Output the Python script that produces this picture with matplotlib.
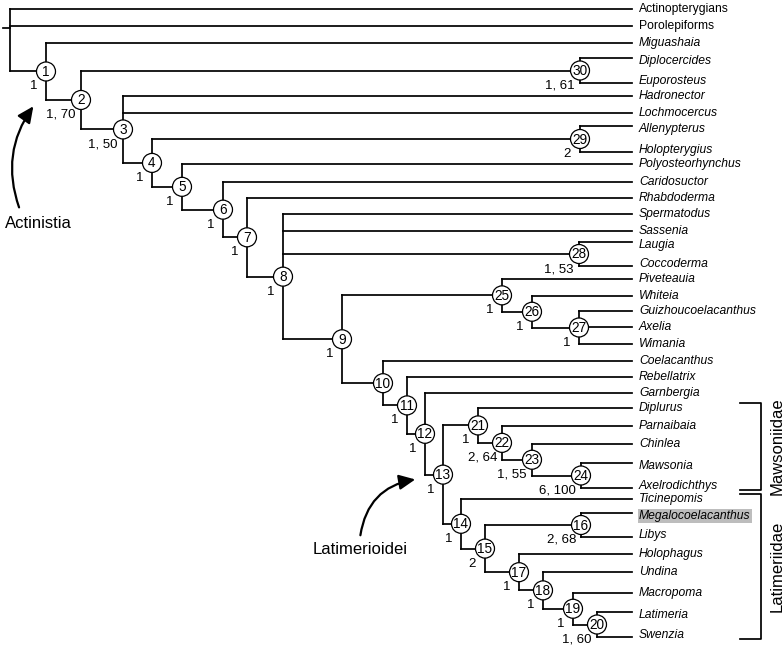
import matplotlib
matplotlib.use("Agg")
import matplotlib.pyplot as plt
from matplotlib.patches import Circle, FancyArrowPatch

# ---------------- data ----------------
taxa = ["Actinopterygians", "Porolepiforms", "Miguashaia", "Diplocercides", "Euporosteus",
        "Hadronector", "Lochmocercus", "Allenypterus", "Holopterygius", "Polyosteorhynchus",
        "Caridosuctor", "Rhabdoderma", "Spermatodus", "Sassenia", "Laugia", "Coccoderma",
        "Piveteauia", "Whiteia", "Guizhoucoelacanthus", "Axelia", "Wimania", "Coelacanthus",
        "Rebellatrix", "Garnbergia", "Diplurus", "Parnaibaia", "Chinlea", "Mawsonia",
        "Axelrodichthys", "Ticinepomis", "Megalocoelacanthus", "Libys", "Holophagus",
        "Undina", "Macropoma", "Latimeria", "Swenzia"]
upright_taxa = ["Actinopterygians", "Porolepiforms"]
highlight_taxon = "Megalocoelacanthus"

clades = {
    "root": ["Actinopterygians", "Porolepiforms", 1],
    1: ["Miguashaia", 2],
    2: [30, 3],
    30: ["Diplocercides", "Euporosteus"],
    3: ["Hadronector", "Lochmocercus", 4],
    4: [29, 5],
    29: ["Allenypterus", "Holopterygius"],
    5: ["Polyosteorhynchus", 6],
    6: ["Caridosuctor", 7],
    7: ["Rhabdoderma", 8],
    8: ["Spermatodus", "Sassenia", 28, 9],
    28: ["Laugia", "Coccoderma"],
    9: [25, 10],
    25: ["Piveteauia", 26],
    26: ["Whiteia", 27],
    27: ["Guizhoucoelacanthus", "Axelia", "Wimania"],
    10: ["Coelacanthus", 11],
    11: ["Rebellatrix", 12],
    12: ["Garnbergia", 13],
    13: [21, 14],
    21: ["Diplurus", 22],
    22: ["Parnaibaia", 23],
    23: ["Chinlea", 24],
    24: ["Mawsonia", "Axelrodichthys"],
    14: ["Ticinepomis", 15],
    15: [16, 17],
    16: ["Megalocoelacanthus", "Libys"],
    17: ["Holophagus", 18],
    18: ["Undina", 19],
    19: ["Macropoma", 20],
    20: ["Latimeria", "Swenzia"],
}

support = {1: "1", 2: "1, 70", 3: "1, 50", 4: "1", 5: "1", 6: "1", 7: "1", 8: "1", 9: "1",
           11: "1", 12: "1", 13: "1", 14: "1", 15: "2", 16: "2, 68", 17: "1", 18: "1",
           19: "1", 20: "1, 60", 21: "1", 22: "2, 64", 23: "1, 55", 24: "6, 100",
           25: "1", 26: "1", 27: "1", 28: "1, 53", 29: "2", 30: "1, 61"}

groups = ["Mawsoniidae", "Latimeriidae"]
group_first = ["Diplurus", "Ticinepomis"]
group_last = ["Axelrodichthys", "Swenzia"]

annotations = ["Actinistia", "Latimerioidei"]

# ---------------- layout (pixel space) ----------------
leaf_y = [9, 26, 43, 58, 83, 96, 113, 126, 152, 164, 182, 198, 214, 231, 242, 266, 279, 296,
          311, 327, 344, 361, 377, 393, 408, 426, 444, 463, 488, 499, 513, 537, 554, 572,
          593, 612, 637]
node_x = {"root": 10, 1: 46, 2: 81, 3: 123, 4: 152, 5: 182, 6: 223, 7: 247, 8: 283, 9: 342,
          10: 383, 11: 407, 12: 425, 13: 443, 14: 461, 15: 485, 16: 581, 17: 519, 18: 543,
          19: 573, 20: 597, 21: 478, 22: 502, 23: 532, 24: 581, 25: 502, 26: 532, 27: 579,
          28: 579, 29: 580, 30: 580}
leaf_x = 632
root_stub = (3, 28)
W, H = 784, 649
LW = 1.25
FONT = "Liberation Sans"

plt.rcParams["font.family"] = [FONT, "DejaVu Sans"]
fig = plt.figure(figsize=(W / 100, H / 100), dpi=100)
ax = fig.add_axes([0, 0, 1, 1])
ax.set_xlim(0, W)
ax.set_ylim(H, 0)
ax.axis("off")

ypos = dict(zip(taxa, leaf_y))


def get_y(n):
    if n in ypos:
        return ypos[n]
    ys = [get_y(c) for c in clades[n]]
    ypos[n] = (min(ys) + max(ys)) / 2
    return ypos[n]


def get_x(n):
    return node_x[n] if n in node_x else leaf_x


# text nudges for leaf pairs (labels sit slightly toward their shared node)
text_dy = {t: 0 for t in taxa}
for n, ch in clades.items():
    if len(ch) == 2 and all(isinstance(c, str) for c in ch):
        text_dy[ch[0]] = 3
        text_dy[ch[1]] = -2

for n, children in clades.items():
    x = node_x[n]
    ys = [get_y(c) for c in children]
    ax.plot([x, x], [min(ys), max(ys)], color="black", lw=LW, solid_capstyle="projecting", zorder=1)
    for c in children:
        ax.plot([x, get_x(c)], [get_y(c), get_y(c)], color="black", lw=LW,
                solid_capstyle="projecting", zorder=1)

# root stub
ax.plot([root_stub[0], node_x["root"]], [root_stub[1], root_stub[1]], color="black", lw=LW, zorder=1)

# node circles and numbers
for n in clades:
    if n == "root":
        continue
    x, y = node_x[n], get_y(n)
    ax.add_patch(Circle((x, y), 9.5, facecolor="white", edgecolor="black", lw=0.9, zorder=2))
    ax.text(x, y + 0.5, str(n), ha="center", va="center", fontsize=9.8, zorder=3)
    if n in support:
        s = support[n]
        dx = 9 if len(s) == 1 else 5
        ax.text(x - dx, y + 15, s, ha="right", va="center", fontsize=9.5, zorder=3)

# taxon labels
for t in taxa:
    style = "normal" if t in upright_taxa else "italic"
    kw = {}
    if t == highlight_taxon:
        kw["bbox"] = dict(boxstyle="square,pad=0.12", fc="#bdbdbd", ec="none")
    ax.text(leaf_x + 7, ypos[t] + text_dy[t], t, ha="left", va="center", fontsize=8.7,
            style=style, **kw)

# group brackets
bx0, bx1 = 740, 761
for g, f, l in zip(groups, group_first, group_last):
    top, bot = ypos[f] - 5, ypos[l] + 2
    ax.plot([bx0, bx1, bx1, bx0], [top, top, bot, bot], color="black", lw=LW, zorder=1)
    ax.text(777, (top + bot) / 2, g, rotation=90, ha="center", va="center", fontsize=12)

# annotations with curved arrows
ann_text_pos = [(5, 223), (313, 549)]
arrow_tail = [(20, 210), (360, 538)]
arrow_head = [(35, 104), (418, 479)]
arrow_rad = [-0.27, -0.38]
for a, tp, tail, head, rad in zip(annotations, ann_text_pos, arrow_tail, arrow_head, arrow_rad):
    ax.text(tp[0], tp[1], a, ha="left", va="center", fontsize=12)
    ax.add_patch(FancyArrowPatch(tail, head, connectionstyle=f"arc3,rad={rad}",
                                 arrowstyle="-|>,head_length=0.75,head_width=0.35",
                                 mutation_scale=13, lw=1.6, color="black", zorder=3))

fig.savefig("out.png", dpi=100)
